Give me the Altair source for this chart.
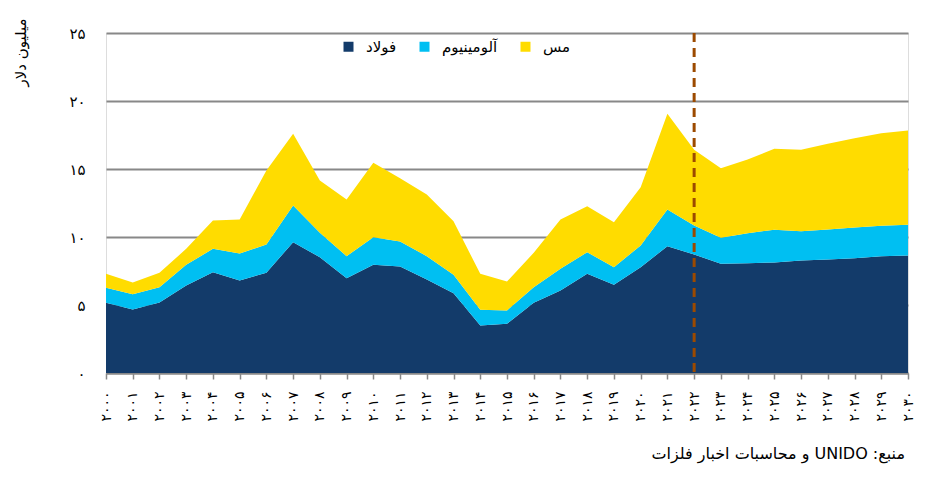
import altair as alt
import pandas as pd

# ---------------- data ----------------
years = list(range(2000, 2031))
steel = [5.16, 4.67, 5.18, 6.43, 7.41, 6.80, 7.37, 9.62, 8.51, 6.97,
         7.96, 7.83, 6.88, 5.87, 3.49, 3.62, 5.16, 6.07, 7.29, 6.49,
         7.78, 9.32, 8.71, 8.03, 8.07, 8.13, 8.27, 8.35, 8.44, 8.59, 8.64]
aluminium = [1.10, 1.12, 1.13, 1.53, 1.72, 1.99, 2.08, 2.70, 1.80, 1.62,
             2.03, 1.84, 1.71, 1.35, 1.16, 0.98, 1.15, 1.59, 1.59, 1.29,
             1.60, 2.70, 2.14, 1.91, 2.21, 2.40, 2.16, 2.20, 2.26, 2.23, 2.26]
copper = [1.03, 0.86, 1.06, 1.17, 2.08, 2.50, 5.44, 5.27, 3.84, 4.17,
          5.47, 4.65, 4.54, 3.94, 2.64, 2.13, 2.53, 3.63, 3.38, 3.31,
          4.28, 7.04, 5.56, 5.12, 5.42, 5.96, 5.98, 6.30, 6.56, 6.81, 6.93]
metals = ["فولاد", "آلومینیوم", "مس"]
colors = ["#133B6A", "#00BFF2", "#FFDC00"]
y_ticks = [0, 5, 10, 15, 20, 25]
forecast_year = 2022
y_title = "میلیون دلار"
source = "منبع: UNIDO و محاسبات اخبار فلزات"

FA = str.maketrans("0123456789", "۰۱۲۳۴۵۶۷۸۹")
years_fa = [str(y).translate(FA) for y in years]

rows = []
for i, y in enumerate(years_fa):
    for k, (m, s) in enumerate(zip(metals, [steel, aluminium, copper])):
        rows.append({"year": y, "metal": m, "value": s[i], "ord": k})
df = pd.DataFrame(rows)

y_label_expr = " : ".join(
    f"datum.value == {v} ? '{str(v).translate(FA)}'" for v in y_ticks
) + " : ''"

FONT = "Liberation Sans Narrow, DejaVu Sans, sans-serif"

x_enc = alt.X(
    "year:O",
    sort=years_fa,
    scale=alt.Scale(type="point", padding=0, domain=years_fa),
    axis=alt.Axis(
        title=None, labelAngle=270, labelFontSize=14, labelFont="DejaVu Sans",
        labelColor="#000", tickColor="#888", tickSize=6, tickWidth=1.5,
        domainColor="#888", domainWidth=2, labelPadding=12, grid=False,
    ),
)

area = alt.Chart(df).mark_area(opacity=1).encode(
    x=x_enc,
    y=alt.Y(
        "value:Q", stack="zero",
        scale=alt.Scale(domain=[0, 25], nice=False),
        axis=alt.Axis(
            values=y_ticks, labelExpr=y_label_expr, title=y_title,
            titleAngle=270, titleX=-86, titleY=-15, titleAlign="right",
            titleBaseline="middle", titleFont="DejaVu Sans", titleFontSize=15,
            titleFontWeight="normal", titleColor="#000",
            labelFont="DejaVu Sans", labelFontSize=15, labelColor="#000",
            labelPadding=21, ticks=False, domain=False,
            grid=True, gridColor="#888", gridWidth=2,
        ),
    ),
    color=alt.Color(
        "metal:N",
        scale=alt.Scale(domain=metals, range=colors),
        sort=metals,
        legend=alt.Legend(
            title=None, orient="none", direction="horizontal",
            legendX=235, legendY=6, symbolType="square", symbolSize=100,
            symbolStrokeWidth=0, labelFont="DejaVu Sans", labelFontSize=15,
            labelColor="#000", labelOffset=10, columnPadding=20, padding=0,
        ),
    ),
    order=alt.Order("ord:Q"),
)

rule = alt.Chart(pd.DataFrame({"year": [str(forecast_year).translate(FA)]})).mark_rule(
    color="#9C4A00", strokeWidth=3, strokeDash=[9, 6]
).encode(x=alt.X("year:O", sort=years_fa))

src = alt.Chart(pd.DataFrame({"t": ["\u202b" + source + "\u202c"]})).mark_text(
    align="right", baseline="middle", fontSize=16, font=FONT, color="#000"
).encode(text="t:N", x=alt.value(799), y=alt.value(421))

chart = alt.layer(area, rule, src).properties(
    width=802, height=340,
    autosize=alt.AutoSizeParams(type="none"),
    padding={"left": 98, "top": 25, "right": 26, "bottom": 99},
).configure_view(stroke=None).configure(background="white")

chart.save("out.html", embed_options={"renderer": "svg", "actions": False})
